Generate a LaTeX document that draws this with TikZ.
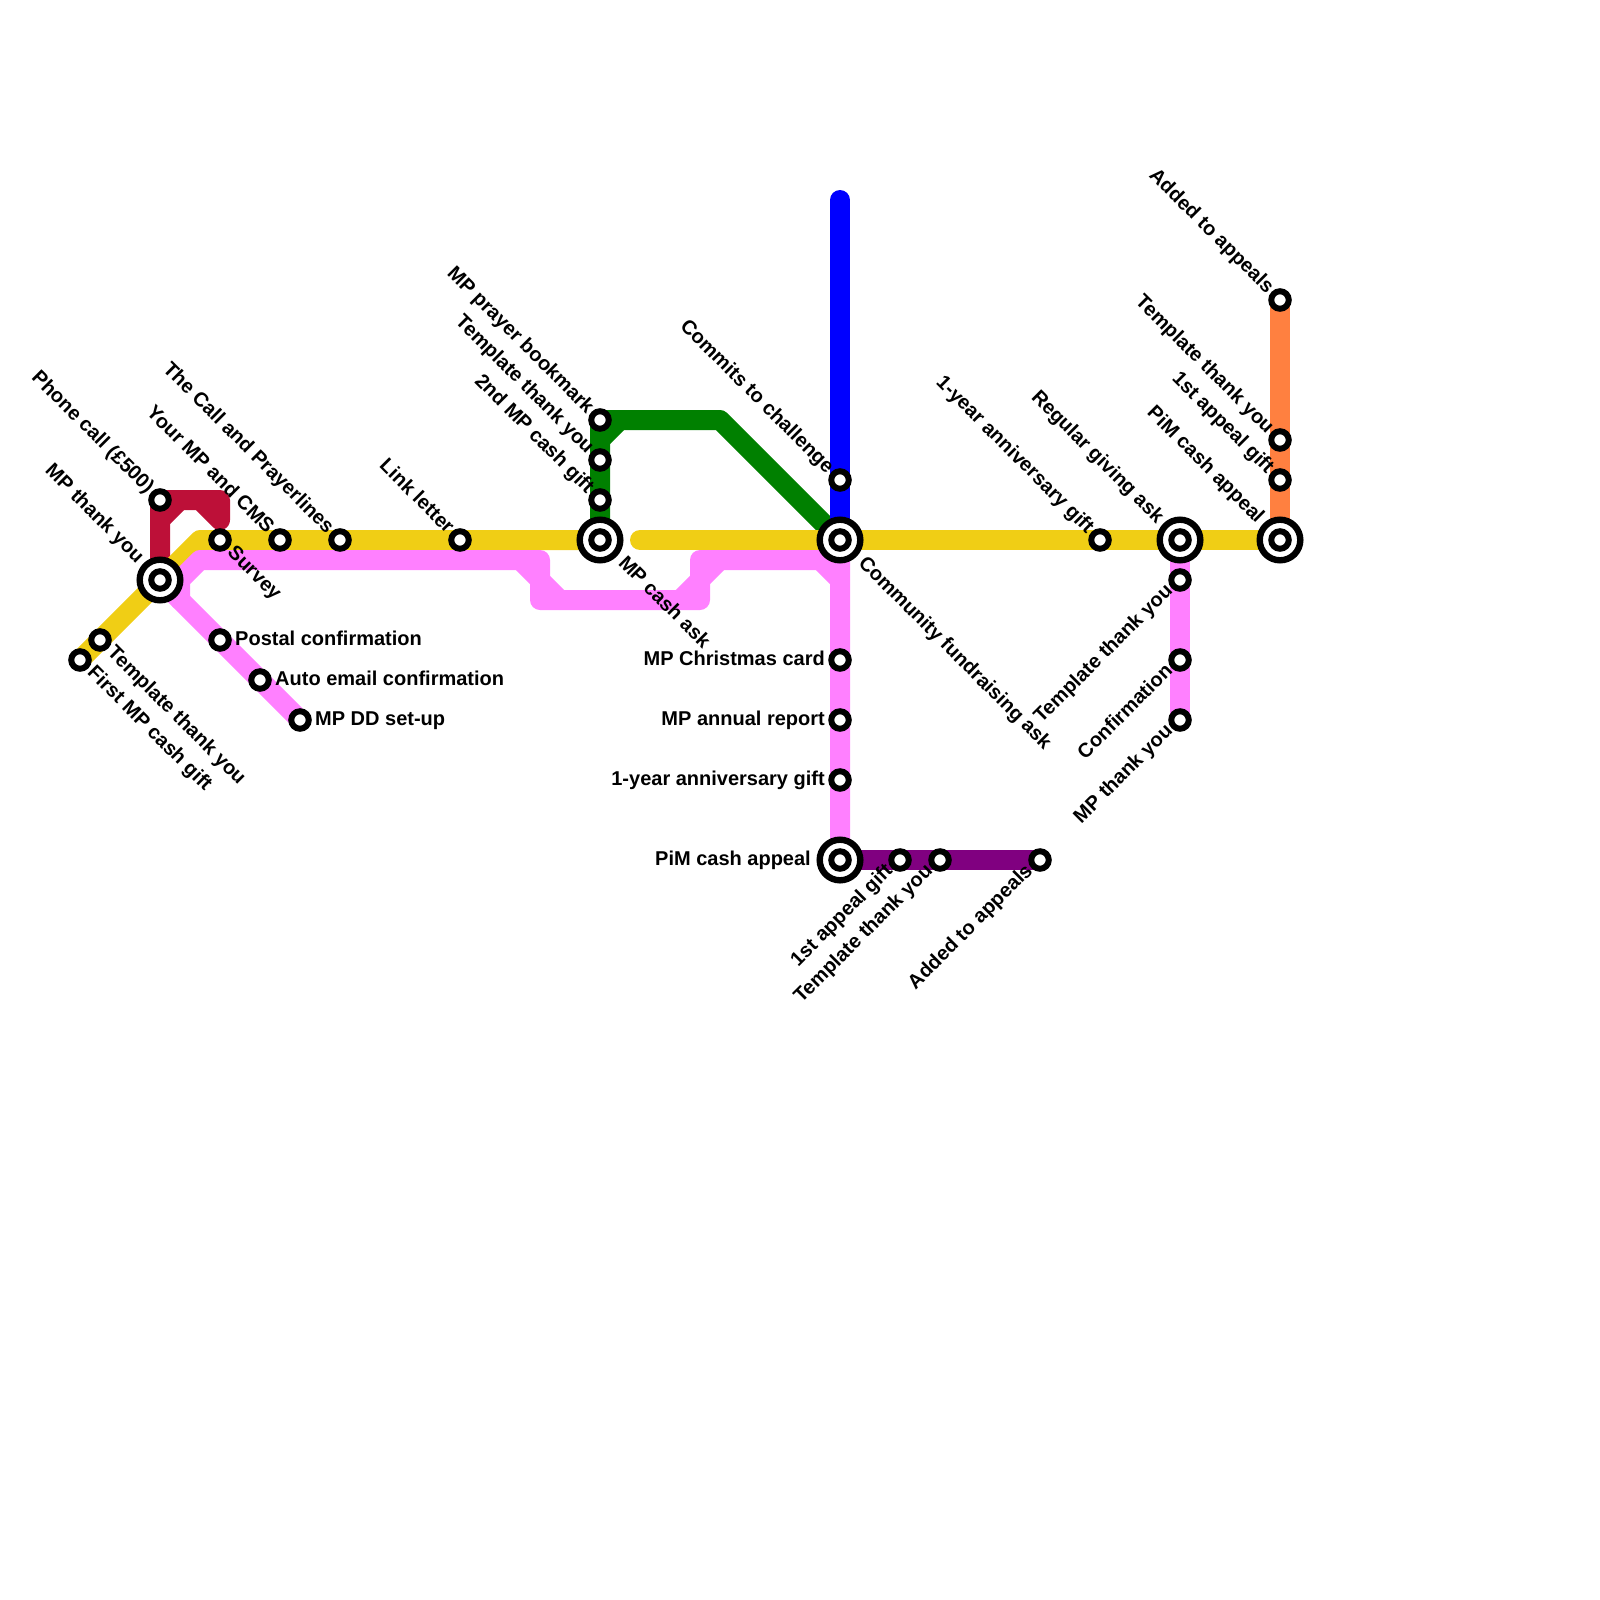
\documentclass[tikz,border=0pt]{standalone}
\usepackage{fontspec}
\setmainfont{Liberation Sans}
\definecolor{lyellow}{HTML}{F0CE15}
\definecolor{lpink}{HTML}{FF80FF}
\definecolor{lred}{HTML}{BD1038}
\definecolor{lgreen}{HTML}{008000}
\definecolor{lblue}{HTML}{0000FF}
\definecolor{lpurple}{HTML}{800080}
\definecolor{lorange}{HTML}{FF8040}
\tikzset{
  metro/.style={line width=20pt,line cap=round,line join=round},
  stn/.style={circle,draw=black,fill=white,line width=6pt,minimum size=17.5pt,inner sep=0pt},
  hub/.style={circle,draw=black,fill=white,line width=6.4pt,minimum size=40.6pt,inner sep=0pt},
  lab/.style={inner sep=0pt,font=\fontsize{20pt}{22pt}\selectfont\bfseries,text height=14pt,text depth=4pt},
  lNW/.style={lab,shift={(-10,-9)},rotate=-45,anchor=east},
  lNWh/.style={lab,shift={(-20,-19.5)},rotate=-45,anchor=east},
  lSE/.style={lab,shift={(10,10)},rotate=-45,anchor=west},
  lSEh/.style={lab,shift={(21,20.5)},rotate=-45,anchor=west},
  lSW/.style={lab,shift={(-10,8.5)},rotate=45,anchor=east},
  lE/.style={lab,shift={(15,0)},anchor=west},
  lW/.style={lab,shift={(-15,0)},anchor=east},
  lWh/.style={lab,shift={(-29,0)},anchor=east},
}
\begin{document}
\begin{tikzpicture}[x=1pt,y=-1pt]
\useasboundingbox (0,0) rectangle (1600,1600);
% stations as coordinates
\coordinate (a1) at (80,660);
\coordinate (a2) at (100,640);
\coordinate (hA) at (160,580);
\coordinate (a3) at (160,500);
\coordinate (a4) at (220,540);
\coordinate (a5) at (280,540);
\coordinate (a6) at (340,540);
\coordinate (a7) at (460,540);
\coordinate (hB) at (600,540);
\coordinate (b1) at (600,420);
\coordinate (b2) at (600,460);
\coordinate (b3) at (600,500);
\coordinate (c1) at (220,640);
\coordinate (c2) at (260,680);
\coordinate (c3) at (300,720);
\coordinate (hC) at (840,540);
\coordinate (d1) at (840,480);
\coordinate (d2) at (840,660);
\coordinate (d3) at (840,720);
\coordinate (d4) at (840,780);
\coordinate (hD) at (840,860);
\coordinate (e1) at (900,860);
\coordinate (e2) at (940,860);
\coordinate (e3) at (1040,860);
\coordinate (f1) at (1100,540);
\coordinate (hE) at (1180,540);
\coordinate (g1) at (1180,580);
\coordinate (g2) at (1180,660);
\coordinate (g3) at (1180,720);
\coordinate (hF) at (1280,540);
\coordinate (k1) at (1280,300);
\coordinate (k2) at (1280,440);
\coordinate (k3) at (1280,480);
% free ends and bends
\coordinate (blueTop) at (840,200);
\coordinate (yBend) at (200,540);
\coordinate (yStart) at (640,540);
\coordinate (gBend) at (720,420);
\coordinate (gCa) at (600,440);
\coordinate (gCb) at (620,420);
\coordinate (rA) at (160,520);
\coordinate (rB) at (180,500);
\coordinate (rC) at (200,500);
\coordinate (rD) at (220,520);
\coordinate (rE) at (220,500);
\coordinate (pA) at (180,600);
\coordinate (pB) at (180,580);
\coordinate (pC) at (200,560);
\coordinate (pD) at (540,560);
\coordinate (pE) at (540,600);
\coordinate (pF) at (700,600);
\coordinate (pG) at (700,560);
\coordinate (pH) at (840,560);
\coordinate (pI) at (520,560);
\coordinate (pJ) at (560,600);
\coordinate (pK) at (680,600);
\coordinate (pL) at (720,560);
\coordinate (pM) at (820,560);
\coordinate (pN) at (840,580);
% lines
\draw[metro,lred] (hA)--(a3)--(rE)--(rD)--(rC);
\draw[metro,lred] (rA)--(rB);
\draw[metro,lgreen] (hB)--(b1)--(gBend)--(hC);
\draw[metro,lgreen] (gCa)--(gCb);
\draw[metro,lblue] (blueTop)--(hC);
\draw[metro,lorange] (k1)--(hF);
\draw[metro,lyellow] (a1)--(yBend)--(hB);
\draw[metro,lyellow] (yStart)--(hF);
\draw[metro,lpink] (c3)--(hA);
\draw[metro,lpink] (pA)--(pB)--(pC)--(pD)--(pE)--(pF)--(pG)--(pH)--(hD);
\draw[metro,lpink] (pI)--(pJ);
\draw[metro,lpink] (pK)--(pL);
\draw[metro,lpink] (pM)--(pN);
\draw[metro,lpink] (hE)--(g3);
\draw[metro,lpurple] (hD)--(e3);
% stations
\foreach \n in {a1,a2,a3,a4,a5,a6,a7,b1,b2,b3,c1,c2,c3,d1,d2,d3,d4,e1,e2,e3,f1,g1,g2,g3,k1,k2,k3}
  \node[stn] (s\n) at (\n) {};
\foreach \n in {hA,hB,hC,hD,hE,hF}{
  \node[hub] (o\n) at (\n) {};
  \node[stn] (s\n) at (\n) {};
}
% labels
\node[lNWh] (t1) at (hA) {MP thank you};
\node[lNW] (t2) at (a3) {Phone call (£500)};
\node[lSE] (t3) at (a4) {Survey};
\node[lNW] (t4) at (a5) {Your MP and CMS};
\node[lNW] (t5) at (a6) {The Call and Prayerlines};
\node[lNW] (t6) at (a7) {Link letter};
\node[lNW] (t7) at (b1) {MP prayer bookmark};
\node[lNW] (t8) at (b2) {Template thank you};
\node[lNW] (t9) at (b3) {2nd MP cash gift};
\node[lSEh] (t10) at (hB) {MP cash ask};
\node[lNW] (t11) at (d1) {Commits to challenge};
\node[lSEh] (t12) at (hC) {Community fundraising ask};
\node[lNW] (t13) at (f1) {1-year anniversary gift};
\node[lNWh] (t14) at (hE) {Regular giving ask};
\node[lSW] (t15) at (g1) {Template thank you};
\node[lSW] (t16) at (g2) {Confirmation};
\node[lSW] (t17) at (g3) {MP thank you};
\node[lNW] (t18) at (k1) {Added to appeals};
\node[lNW] (t19) at (k2) {Template thank you};
\node[lNW] (t20) at (k3) {1st appeal gift};
\node[lNWh] (t21) at (hF) {PiM cash appeal};
\node[lW] (t22) at (d2) {MP Christmas card};
\node[lW] (t23) at (d3) {MP annual report};
\node[lW] (t24) at (d4) {1-year anniversary gift};
\node[lWh] (t25) at (hD) {PiM cash appeal};
\node[lSW] (t26) at (e1) {1st appeal gift};
\node[lSW] (t27) at (e2) {Template thank you};
\node[lSW] (t28) at (e3) {Added to appeals};
\node[lSE] (t29) at (a2) {Template thank you};
\node[lSE] (t30) at (a1) {First MP cash gift};
\node[lE] (t31) at (c1) {Postal confirmation};
\node[lE] (t32) at (c2) {Auto email confirmation};
\node[lE] (t33) at (c3) {MP DD set-up};
\end{tikzpicture}
\end{document}
